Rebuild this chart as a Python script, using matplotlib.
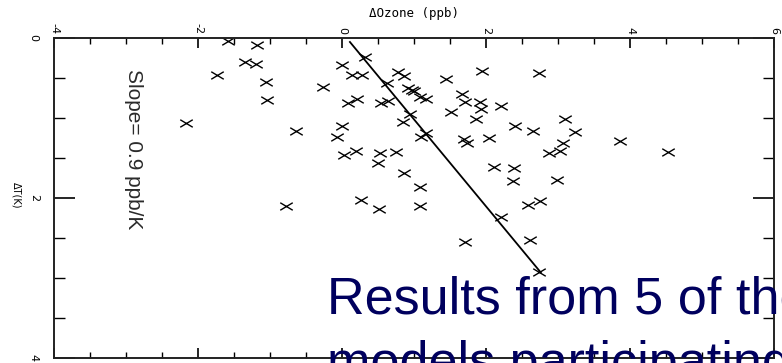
import matplotlib
matplotlib.use("Agg")
import matplotlib.pyplot as plt
from matplotlib.path import Path
from matplotlib.ticker import MultipleLocator

plt.rcParams['axes.unicode_minus'] = False

# Data (ΔOzone in ppb, ΔT in K)
ozone = [-1.58, -1.18, -1.35, -1.19, -1.74, -1.06, -1.04, -2.17, -0.64, -0.78,
         -0.26, 0.00, 0.14, 0.28, 0.32, 0.63, 0.78, 0.86, 1.44, 1.94,
         2.74, 0.92, 0.97, 1.00, 0.08, 0.21, 0.54, 0.64, 1.08, 1.17,
         1.67, 1.71, 1.92, 1.93, 2.21, 1.51, 1.86, 0.94, 0.85, 0.00,
         -0.07, 1.10, 1.17, 1.69, 1.74, 2.04, 2.40, 2.65, 3.10, 3.24,
         3.07, 2.88, 3.03, 3.86, 4.53, 0.03, 0.19, 0.53, 0.50, 0.75,
         0.86, 2.11, 2.39, 2.38, 2.99, 1.08, 0.26, 2.58, 2.75, 0.51,
         1.08, 2.21, 1.71, 2.61, 2.74]
dT = [0.04, 0.09, 0.30, 0.33, 0.46, 0.55, 0.78, 1.06, 1.16, 2.10,
      0.61, 0.34, 0.46, 0.46, 0.24, 0.56, 0.43, 0.48, 0.51, 0.41,
      0.44, 0.63, 0.65, 0.66, 0.81, 0.76, 0.81, 0.79, 0.74, 0.76,
      0.70, 0.80, 0.80, 0.89, 0.85, 0.93, 1.01, 0.95, 1.05, 1.10,
      1.24, 1.24, 1.19, 1.26, 1.31, 1.25, 1.10, 1.16, 1.01, 1.18,
      1.31, 1.44, 1.41, 1.29, 1.43, 1.46, 1.41, 1.44, 1.56, 1.43,
      1.69, 1.61, 1.63, 1.79, 1.78, 1.86, 2.03, 2.09, 2.04, 2.14,
      2.10, 2.24, 2.55, 2.53, 2.93]

fit_ozone = [0.11, 2.76]
fit_dT = [0.05, 2.93]

xticks = [-4, -2, 0, 2, 4, 6]
yticks = [0, 2, 4]

fig = plt.figure(figsize=(7.82, 3.63), dpi=100)
ax = fig.add_axes([54/782, 1-358/363, 720/782, 320/363])

xmark = Path([(-1, -0.6), (1, 0.6), (-1, 0.6), (1, -0.6)],
             [Path.MOVETO, Path.LINETO, Path.MOVETO, Path.LINETO])
ax.plot(ozone, dT, linestyle='none', marker=xmark, markersize=9,
        markeredgewidth=1.0, color='black')
ax.plot(fit_ozone, fit_dT, color='black', linewidth=1.3)

ax.set_xlim(-4, 6)
ax.set_ylim(4, 0)
ax.set_xticks(xticks)
ax.set_yticks(yticks)
ax.xaxis.set_minor_locator(MultipleLocator(0.5))
ax.yaxis.set_minor_locator(MultipleLocator(0.5))
ax.tick_params(axis='x', which='major', direction='in', length=7, width=1.2,
               top=True, bottom=True, labeltop=True, labelbottom=False,
               labelsize=8, pad=3, labelrotation=-90)
ax.tick_params(axis='x', which='minor', direction='in', length=4, width=1.0,
               top=True, bottom=True)
ax.tick_params(axis='y', which='major', direction='in', length=15, width=1.2,
               left=True, right=True, labelsize=8, pad=11, labelrotation=-90)
ax.tick_params(axis='y', which='minor', direction='in', length=8, width=1.0,
               left=True, right=True)
for lab in ax.get_yticklabels():
    lab.set_va('center')
for s in ax.spines.values():
    s.set_linewidth(1.4)
    s.set_color('#222222')

fig.text(414/782, 1-13/363, 'ΔOzone (ppb)', ha='center', va='center',
         fontsize=9, family='DejaVu Sans Mono')
fig.text(16/782, 1-195/363, 'ΔT(K)', ha='center', va='center',
         rotation=-90, fontsize=7)

ax.text(133/782, 1-149/363, 'Slope= 0.9 ppb/K', transform=fig.transFigure,
        ha='center', va='center', rotation=-90, fontsize=15,
        family=['Liberation Sans Narrow', 'Liberation Sans'],
        fontweight='light', color='#2a2a2a')

fig.text(779/782, 1-192/363, 'scenarios', ha='left', va='center',
         rotation=-90, fontsize=6)

navy = '#00005e'
fig.text(327/782, 1-313/363, 'Results from 5 of the', ha='left',
         va='baseline', fontsize=37.5, family='Liberation Sans', color=navy)
fig.text(327/782, 1-378/363, 'models participating', ha='left',
         va='baseline', fontsize=37.5, family='Liberation Sans', color=navy)

fig.savefig('out.png', dpi=100)
